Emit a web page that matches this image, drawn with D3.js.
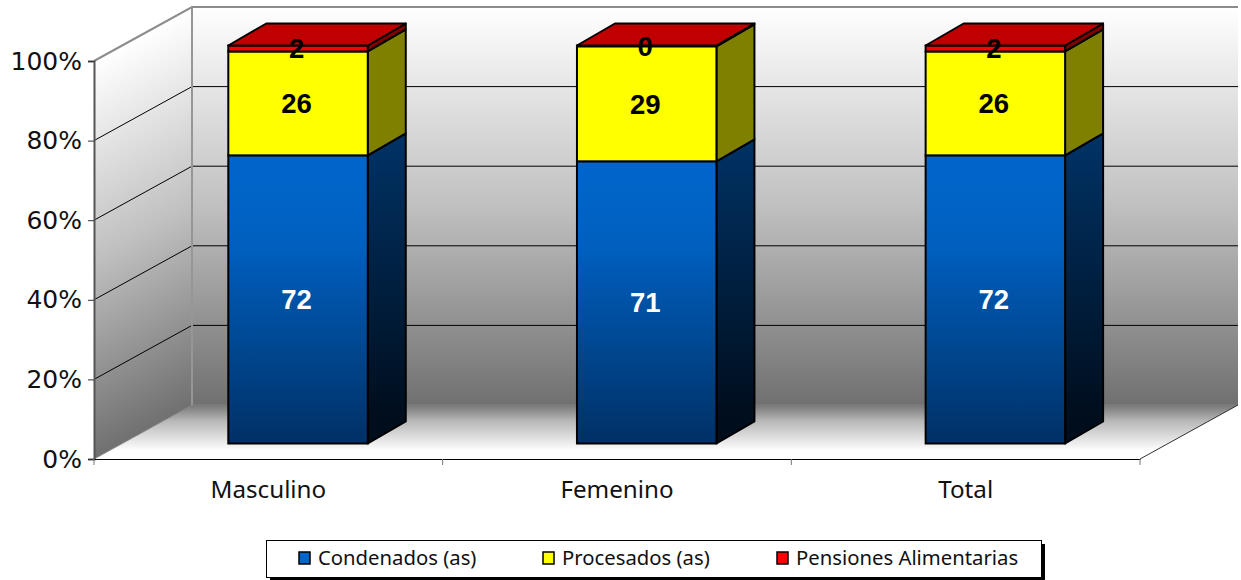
<!DOCTYPE html>
<html>
<head>
<meta charset="utf-8">
<script src="https://cdn.jsdelivr.net/npm/d3@7"></script>
<style>
html,body{margin:0;padding:0;background:#fff;}
svg{display:block;}
.lbl{font-family:"Liberation Sans",Arial,sans-serif;font-weight:bold;font-size:27.5px;text-anchor:middle;}
.axis text{fill:#111;}
</style>
</head>
<body>
<div id="chart"></div>
<script>
var categories = ["Masculino","Femenino","Total"];
var condenados = [72.4,70.9,72.4];
var procesados = [26.1,28.9,26.1];
var pensiones = [1.5,0.2,1.5];
var seriesNames = ["Condenados (as)","Procesados (as)","Pensiones Alimentarias"];
var yTicks = [0,20,40,60,80,100];

var width = 1241, height = 580;
var left = 94, right = 1140, bottom = 459, top_ = 61;
var wall = {dx:98, dy:-54};   // depth of the 3d box
var barShift = {dx:29.7, dy:-15.5};
var barDepth = {dx:38, dy:-22};

var colors = [
    {front:"url(#blueFront)", side:"url(#blueSide)", key:"#0066cc"},
    {front:"#ffff00", side:"#808000", key:"#ffff00"},
    {front:"#ff0000", side:"#800000", top:"#c00000", key:"#ff0000"}
];

var svg = d3.select("#chart").append("svg").attr("width",width).attr("height",height);
var defs = svg.append("defs");

function gradient(id, y1, y2, stops, transform){
    var g = defs.append("linearGradient").attr("id",id)
        .attr("gradientUnits","userSpaceOnUse")
        .attr("x1",0).attr("x2",0).attr("y1",y1).attr("y2",y2);
    if(transform) g.attr("gradientTransform",transform);
    stops.forEach(function(s){
        g.append("stop").attr("offset",s[0]).attr("stop-color",s[1]);
    });
}

var xs = d3.scaleBand().domain(categories).range([left,right]).paddingInner(0.6).paddingOuter(0.3);
var ys = d3.scaleLinear().domain([0,100]).range([bottom,top_]);

var backTop = ys(100)+wall.dy, backBottom = ys(0)+wall.dy;
var wallStops = [[0,"#ffffff"],[0.5,"#c0c0c0"],[1,"#707070"]];
var skew = Math.atan(wall.dy/wall.dx)*180/Math.PI;
gradient("wallBack", backTop, backBottom, wallStops);
gradient("wallLeft", backTop, backBottom, wallStops,
    "translate("+(left+wall.dx)+",0) skewY("+skew+") translate("+(-(left+wall.dx))+",0)");
gradient("floor", backBottom, ys(0)-8, [[0,"#777777"],[0.35,"#b8b8b8"],[1,"#ffffff"]]);
gradient("blueFront", ys(72)+barShift.dy, ys(0)+barShift.dy, [[0,"#0066cc"],[0.3,"#0060c0"],[1,"#003066"]]);
gradient("blueSide", ys(72)+barShift.dy+barDepth.dy, ys(0)+barShift.dy+barDepth.dy, [[0,"#003366"],[1,"#000d1c"]]);

function poly(pts){ return pts.map(function(p){return p.join(",");}).join(" "); }

// walls and floor
svg.append("polygon").attr("fill","url(#wallLeft)")
    .attr("points",poly([[left,ys(0)],[left+wall.dx,backBottom],[left+wall.dx,backTop],[left,ys(100)]]));
svg.append("rect").attr("x",left+wall.dx).attr("y",backTop)
    .attr("width",right-left).attr("height",backBottom-backTop).attr("fill","url(#wallBack)");
svg.append("polygon").attr("fill","url(#floor)")
    .attr("points",poly([[left,ys(0)],[left+wall.dx,backBottom],[right+wall.dx,backBottom],[right,ys(0)]]));

// gridlines
yTicks.forEach(function(t){
    var y = ys(t);
    var c = (t===100) ? "#8c8c8c" : (t===0 ? "#808080" : "#000");
    var w = (t===100) ? 2 : 1;
    svg.append("polyline").attr("fill","none").attr("stroke",c).attr("stroke-width",w)
        .attr("points",poly([[left,y],[left+wall.dx,y+wall.dy],[right+wall.dx,y+wall.dy]]));
});
svg.append("line").attr("x1",left+wall.dx).attr("x2",left+wall.dx).attr("y1",backTop).attr("y2",backBottom)
    .attr("stroke","#969696").attr("stroke-width",2);
svg.append("line").attr("x1",right).attr("y1",ys(0)).attr("x2",right+wall.dx).attr("y2",backBottom)
    .attr("stroke","#333");

// bars
var series = [condenados,procesados,pensiones];
categories.forEach(function(cat,i){
    var x0 = xs(cat)+barShift.dx, x1 = x0+xs.bandwidth();
    var base = 0;
    series.forEach(function(vals,k){
        var y0 = ys(base)+barShift.dy, y1 = ys(base+vals[i])+barShift.dy;
        var c = colors[k];
        svg.append("polygon").attr("fill",c.side).attr("stroke","#000").attr("stroke-width",2)
            .attr("stroke-linejoin","round")
            .attr("points",poly([[x1,y0],[x1+barDepth.dx,y0+barDepth.dy],[x1+barDepth.dx,y1+barDepth.dy],[x1,y1]]));
        svg.append("rect").attr("x",x0).attr("y",y1).attr("width",x1-x0).attr("height",y0-y1)
            .attr("fill",c.front).attr("stroke","#000").attr("stroke-width",2);
        if(c.top){
            svg.append("polygon").attr("fill",c.top).attr("stroke","#000").attr("stroke-width",2)
                .attr("stroke-linejoin","round")
                .attr("points",poly([[x0,y1],[x0+barDepth.dx,y1+barDepth.dy],[x1+barDepth.dx,y1+barDepth.dy],[x1,y1]]));
        }
        base += vals[i];
    });
});

// value labels go on top of every bar
categories.forEach(function(cat,i){
    var cx = xs(cat)+barShift.dx+xs.bandwidth()/2-1.5;
    var base = 0;
    series.forEach(function(vals,k){
        var mid = ys(base+vals[i]/2)+barShift.dy;
        svg.append("text").attr("class","lbl").attr("x",cx).attr("y",mid).attr("dy","0.36em")
            .attr("fill",k===0?"#fff":"#000").text(Math.round(vals[i]));
        base += vals[i];
    });
});

// axes
var yAxis = svg.append("g").attr("class","axis").attr("transform","translate("+left+",0)")
    .call(d3.axisLeft(ys).tickValues(yTicks).tickFormat(function(d){return d+"%";}).tickSizeOuter(0).tickSize(6).tickPadding(6));
yAxis.selectAll("text").attr("font-size",25).attr("font-family","'DejaVu Sans',sans-serif");
yAxis.select(".domain").attr("stroke","#555").attr("stroke-width",2);
yAxis.selectAll(".tick line").attr("stroke","#333");

var xAxis = svg.append("g").attr("class","axis").attr("transform","translate(0,"+bottom+")")
    .call(d3.axisBottom(xs).tickSize(0).tickPadding(22));
xAxis.selectAll("text").attr("font-size",24.2).attr("font-family","'Noto Sans',sans-serif");
xAxis.select(".domain").attr("stroke","#000").attr("stroke-width",1);
d3.range(categories.length+1).forEach(function(i){
    var x = left + i*xs.step();
    xAxis.append("line").attr("x1",x).attr("x2",x).attr("y1",0).attr("y2",6).attr("stroke","#777");
});

// legend
var legendX = [298,542,776];
svg.append("rect").attr("x",270).attr("y",544).attr("width",775).attr("height",37).attr("fill","#000");
svg.append("rect").attr("x",266.5).attr("y",540.5).attr("width",775).attr("height",37)
    .attr("fill","#fff").attr("stroke","#000");
seriesNames.forEach(function(name,i){
    svg.append("rect").attr("x",legendX[i]+1).attr("y",552).attr("width",11).attr("height",12)
        .attr("fill",colors[i].key).attr("stroke","#000").attr("stroke-width",1.5);
    svg.append("text").attr("x",legendX[i]+20).attr("y",565)
        .attr("font-family","'Noto Sans',sans-serif").attr("font-size",20.3).attr("fill","#111").text(name);
});
</script>
</body>
</html>
